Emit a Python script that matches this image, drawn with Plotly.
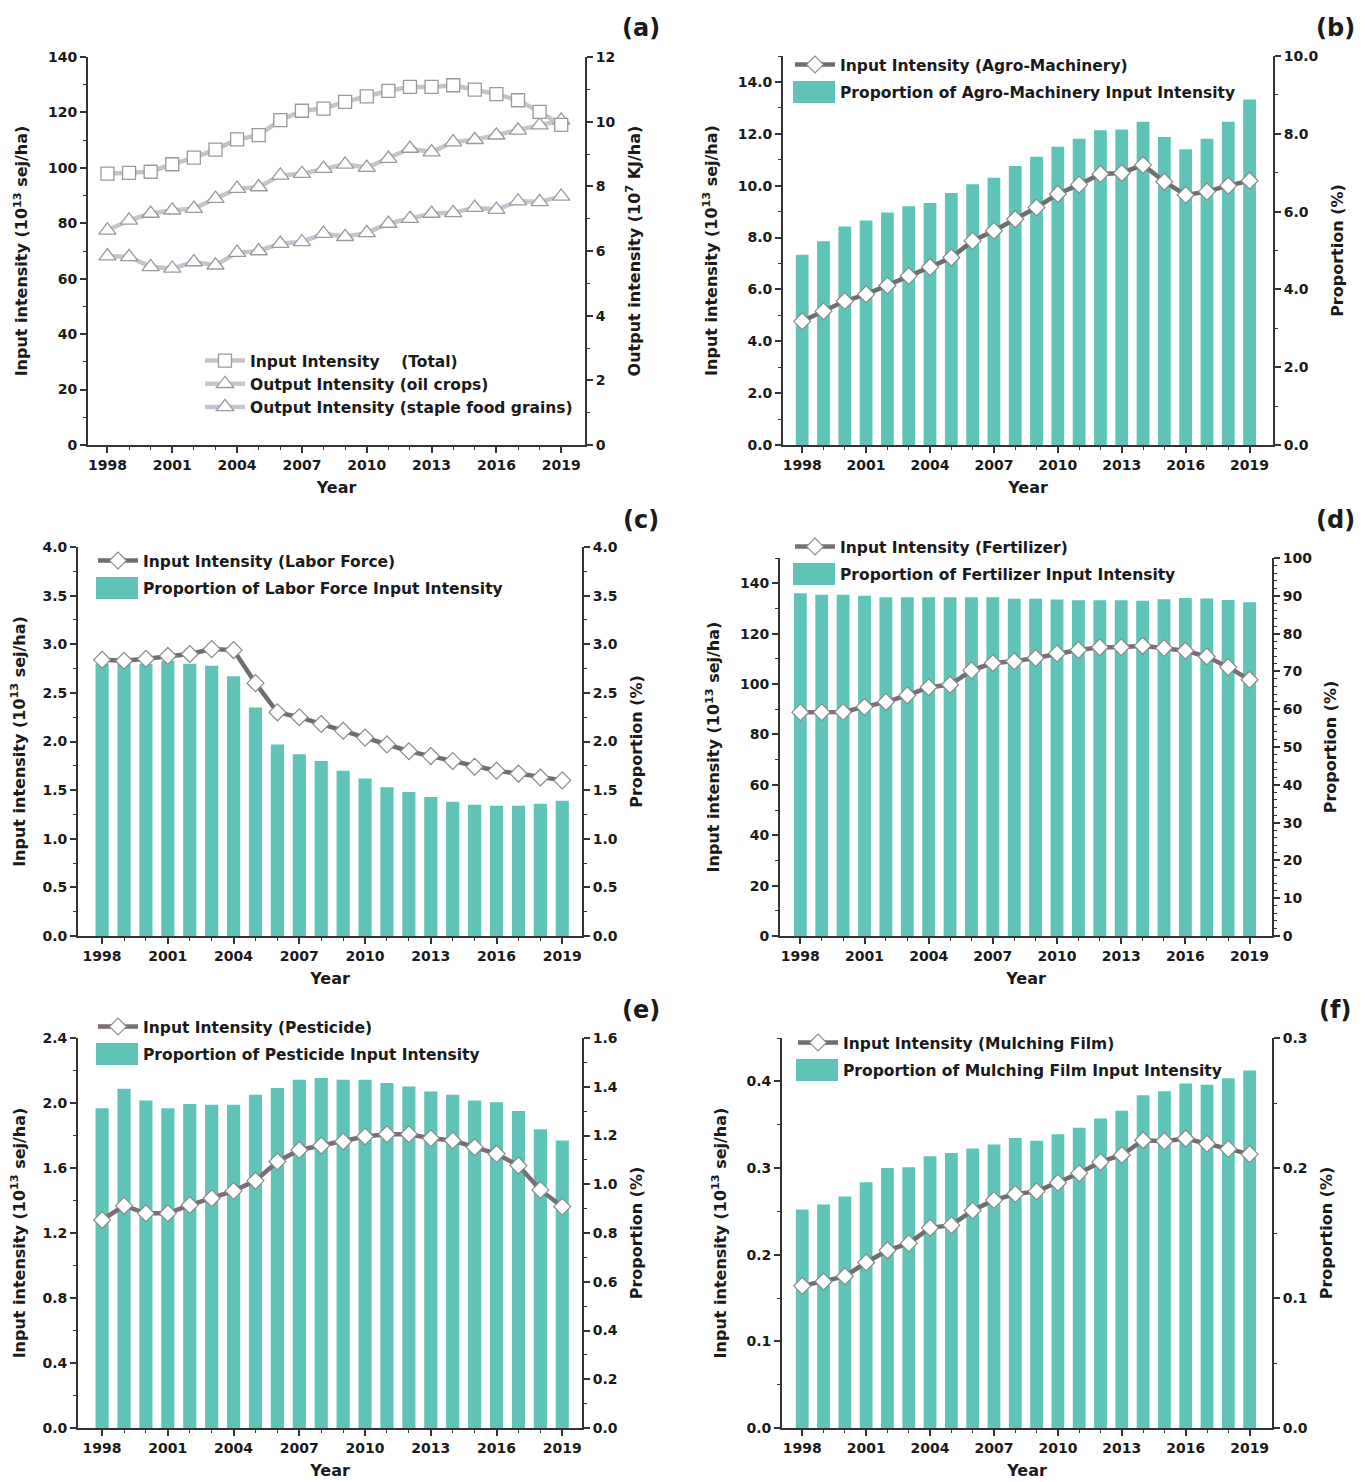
import plotly.graph_objects as go

years = list(range(1998, 2020))
tick_years = [1998, 2001, 2004, 2007, 2010, 2013, 2016, 2019]

# (a)
a_total = [97.9, 98.2, 98.6, 101.3, 103.7, 106.6, 110.3, 111.8, 117.2, 120.6, 121.4,
           123.8, 125.8, 127.8, 129.2, 129.2, 129.8, 128.2, 126.6, 124.4, 120.2, 115.5]
a_oil = [6.64, 6.95, 7.16, 7.26, 7.31, 7.62, 7.93, 7.98, 8.34, 8.39, 8.55,
         8.68, 8.58, 8.86, 9.17, 9.06, 9.37, 9.44, 9.58, 9.73, 9.89, 10.04]
a_staple = [5.84, 5.82, 5.51, 5.46, 5.66, 5.56, 5.95, 6.00, 6.23, 6.28, 6.54,
            6.44, 6.56, 6.85, 7.00, 7.16, 7.18, 7.34, 7.28, 7.54, 7.52, 7.69]

# (b) Agro-Machinery
b_int = [4.77, 5.16, 5.55, 5.81, 6.15, 6.52, 6.86, 7.23, 7.87, 8.26, 8.71,
         9.16, 9.68, 10.04, 10.45, 10.49, 10.80, 10.15, 9.64, 9.77, 10.0, 10.19]
b_prop = [4.89, 5.24, 5.62, 5.77, 5.98, 6.14, 6.22, 6.48, 6.70, 6.87, 7.17,
          7.41, 7.67, 7.87, 8.09, 8.11, 8.31, 7.92, 7.60, 7.87, 8.31, 8.88]

# (c) Labor Force
c_int = [2.84, 2.83, 2.85, 2.88, 2.90, 2.95, 2.94, 2.60, 2.30, 2.25, 2.18,
         2.11, 2.04, 1.97, 1.90, 1.85, 1.80, 1.74, 1.70, 1.67, 1.63, 1.60]
c_prop = [2.80, 2.80, 2.80, 2.83, 2.80, 2.78, 2.67, 2.35, 1.97, 1.87, 1.80,
          1.70, 1.62, 1.53, 1.48, 1.43, 1.38, 1.35, 1.34, 1.34, 1.36, 1.39]

# (d) Fertilizer
d_int = [88.8, 88.8, 88.9, 90.9, 92.9, 95.5, 98.7, 99.7, 105.4, 108.3, 109.0,
         110.3, 112.1, 113.5, 114.6, 114.6, 115.2, 114.3, 113.2, 110.9, 106.7, 101.7]
d_prop = [90.7, 90.3, 90.3, 90.0, 89.6, 89.6, 89.6, 89.6, 89.6, 89.6, 89.2,
          89.2, 89.0, 88.8, 88.8, 88.8, 88.7, 89.1, 89.4, 89.3, 88.9, 88.3]

# (e) Pesticide
e_int = [1.280, 1.368, 1.321, 1.321, 1.372, 1.414, 1.459, 1.522, 1.640, 1.711, 1.738,
         1.763, 1.794, 1.808, 1.808, 1.783, 1.769, 1.728, 1.687, 1.615, 1.465, 1.362]
e_prop = [1.312, 1.392, 1.344, 1.312, 1.329, 1.326, 1.326, 1.367, 1.395, 1.429, 1.436,
          1.429, 1.429, 1.415, 1.401, 1.381, 1.367, 1.344, 1.336, 1.301, 1.226, 1.179]

# (f) Mulching Film
f_int = [0.164, 0.169, 0.175, 0.191, 0.205, 0.213, 0.231, 0.234, 0.251, 0.263, 0.270,
         0.273, 0.283, 0.294, 0.307, 0.315, 0.332, 0.331, 0.334, 0.328, 0.322, 0.316]
f_prop = [0.168, 0.172, 0.178, 0.189, 0.200, 0.2005, 0.209, 0.2115, 0.215, 0.218, 0.223,
          0.221, 0.226, 0.231, 0.238, 0.244, 0.256, 0.259, 0.265, 0.264, 0.269, 0.275]

W, H = 1365, 1482
OFF = 8  # page body margin
FONT = "DejaVu Sans, Arial, sans-serif"
TXT = "#1a1a1a"
AX = "#333333"
BAR = "#5fc4b7"
LINE = "#6e6e6e"
LINE2 = "#7a6c78"


def fx(px):
    return (px - OFF) / W


def fy(py):
    return 1 - (py - OFF) / H


panels = [
    dict(xd=[fx(88), fx(585)], yd=[fy(445), fy(57)], xr=[1997.1, 2020.1]),
    dict(xd=[fx(783), fx(1273)], yd=[fy(445), fy(56)], xr=[1997.1, 2020.1]),
    dict(xd=[fx(78), fx(582)], yd=[fy(936), fy(547)], xr=[1996.9, 2019.9]),
    dict(xd=[fx(780), fx(1272)], yd=[fy(936), fy(558)], xr=[1997.05, 2020.05]),
    dict(xd=[fx(78), fx(582)], yd=[fy(1428), fy(1038)], xr=[1996.9, 2019.9]),
    dict(xd=[fx(782), fx(1272)], yd=[fy(1428), fy(1038)], xr=[1997.05, 2020.05]),
]

# (right axis range, dtick, minor, fmt), (left axis range, dtick, minor, fmt)
yspecs = [
    (([0, 12], 2, 1, "d"), ([0, 140], 20, 10, "d")),
    (([0, 10], 2, 1, ".1f"), ([0, 15], 2, 1, ".1f")),
    (([0, 4], 0.5, 0.25, ".1f"), ([0, 4], 0.5, 0.25, ".1f")),
    (([0, 100], 10, 2, "d"), ([0, 150], 20, 10, "d")),
    (([0, 1.6], 0.2, 0.1, ".1f"), ([0, 2.4], 0.4, 0.2, ".1f")),
    (([0, 0.3], 0.1, 0.05, ".1f"), ([0, 0.45], 0.1, 0.05, ".1f")),
]

fig = go.Figure()


def ax_names(k):
    xn = "x" if k == 1 else f"x{k}"
    yr = "y" if k == 1 else f"y{2*k-1}"
    yl = f"y{2*k}"
    return xn, yr, yl


tickfont = dict(family=FONT, size=14, color=TXT, weight="bold")
titlefont = dict(family=FONT, size=16, color=TXT, weight="bold")

layout = dict(
    width=W, height=H,
    margin=dict(l=0, r=0, t=0, b=0, autoexpand=False),
    paper_bgcolor="white", plot_bgcolor="rgba(0,0,0,0)",
    showlegend=True,
    barmode="overlay",
    font=dict(family=FONT, color=TXT),
)

right_titles = ["Output intensity (10<sup>7</sup> KJ/ha)"] + ["Proportion (%)"] * 5
for i, p in enumerate(panels):
    k = i + 1
    xn, yr, yl = ax_names(k)
    xkey = "xaxis" if k == 1 else f"xaxis{k}"
    yrkey = "yaxis" if k == 1 else f"yaxis{2*k-1}"
    ylkey = f"yaxis{2*k}"
    layout[xkey] = dict(
        domain=p["xd"], anchor=yr, range=p["xr"], automargin=False,
        tickvals=tick_years, ticks="outside", ticklen=6, tickwidth=1.5, tickcolor=AX,
        minor=dict(tickvals=years, ticks="outside", ticklen=3, tickcolor=AX, tickwidth=1.2),
        showline=True, linecolor=AX, linewidth=1.8, showgrid=False, zeroline=False,
        tickfont=tickfont, title=dict(text="Year", font=titlefont, standoff=10),
    )
    (rr, rd, rm, rf), (lr, ld, lm, lf) = yspecs[i]
    layout[yrkey] = dict(
        domain=p["yd"], anchor=xn, side="right", range=rr, dtick=rd, tick0=0, automargin=False,
        tickformat=rf, ticks="outside", ticklen=6, tickwidth=1.5, tickcolor=AX,
        minor=dict(dtick=rm, tick0=0, ticks="outside", ticklen=3, tickcolor=AX, tickwidth=1.2),
        showline=True, linecolor=AX, linewidth=1.8, showgrid=False, zeroline=False,
        tickfont=tickfont, title=dict(text=right_titles[i], font=titlefont, standoff=14),
    )
    layout[ylkey] = dict(
        anchor=xn, overlaying=yr, side="left", range=lr, dtick=ld, tick0=0, automargin=False,
        tickformat=lf, ticks="outside", ticklen=6, tickwidth=1.5, tickcolor=AX,
        minor=dict(dtick=lm, tick0=0, ticks="outside", ticklen=3, tickcolor=AX, tickwidth=1.2),
        showline=True, linecolor=AX, linewidth=1.8, showgrid=False, zeroline=False,
        tickfont=tickfont, title=dict(text="Input intensity (10<sup>13</sup> sej/ha)", font=titlefont, standoff=16),
    )

legfont = dict(family=FONT, size=15.5, color=TXT, weight="bold")
leg_pos = [
    (200, 344), (790, 48), (93, 544), (790, 530), (93, 1010), (793, 1026),
]
for i, (lx, ly) in enumerate(leg_pos):
    key = "legend" if i == 0 else f"legend{i+1}"
    layout[key] = dict(
        x=fx(lx), y=fy(ly), xanchor="left", yanchor="top",
        bgcolor="rgba(0,0,0,0)", font=legfont, tracegroupgap=0 if i == 0 else 4,
        itemwidth=40, traceorder="normal" if i == 0 else "grouped",
    )

# Panel (a)
xn, yr, yl = ax_names(1)
fig.add_trace(go.Scatter(
    x=years, y=a_total, xaxis=xn, yaxis=yl, mode="lines+markers",
    name="Input Intensity    (Total)", legend="legend",
    line=dict(color="#cbbfcb", width=4.5),
    marker=dict(symbol="square", size=13, color="white", line=dict(color="#999999", width=1.3)),
))
fig.add_trace(go.Scatter(
    x=years, y=a_oil, xaxis=xn, yaxis=yr, mode="lines+markers",
    name="Output Intensity (oil crops)", legend="legend",
    line=dict(color="#c2cbc2", width=4.5),
    marker=dict(symbol="triangle-up", size=15, color="white", line=dict(color="#999999", width=1.3)),
))
fig.add_trace(go.Scatter(
    x=years, y=a_staple, xaxis=xn, yaxis=yr, mode="lines+markers",
    name="Output Intensity (staple food grains)", legend="legend",
    line=dict(color="#bec8d4", width=4.5),
    marker=dict(symbol="triangle-up", size=15, color="white", line=dict(color="#999999", width=1.3)),
))

bar_panels = [
    (2, b_int, b_prop, "Agro-Machinery", LINE),
    (3, c_int, c_prop, "Labor Force", LINE),
    (4, d_int, d_prop, "Fertilizer", LINE2),
    (5, e_int, e_prop, "Pesticide", LINE2),
    (6, f_int, f_prop, "Mulching Film", LINE),
]
shapes = []
for k, ints, props, nm, lc in bar_panels:
    xn, yr, yl = ax_names(k)
    lg = f"legend{k}"
    fig.add_trace(go.Bar(
        x=years, y=props, xaxis=xn, yaxis=yr, width=0.6,
        name=f"Proportion of {nm} Input Intensity", legend=lg, legendrank=2,
        legendgroup=f"bar{k}",
        marker=dict(color=BAR, line=dict(width=0)),
    ))
    fig.add_trace(go.Scatter(
        x=years, y=ints, xaxis=xn, yaxis=yl, mode="lines+markers",
        name=f"Input Intensity ({nm})", legend=lg, legendrank=1,
        legendgroup=f"line{k}",
        line=dict(color=lc, width=4.5),
        marker=dict(symbol="diamond", size=13, color="white", line=dict(color="#8a8a8a", width=1.2)),
    ))
    # enlarged legend swatch for the bar series (as in the original legend)
    lx, ly = leg_pos[k - 1]
    cy = ly + 44
    shapes.append(dict(
        type="rect", xref="paper", yref="paper",
        x0=fx(lx + 3), x1=fx(lx + 45), y0=fy(cy + 11), y1=fy(cy - 11),
        fillcolor=BAR, line=dict(width=0), layer="above",
    ))

layout["shapes"] = shapes

labels = [("(a)", 641, 28), ("(b)", 1335, 28), ("(c)", 641, 520),
          ("(d)", 1335, 520), ("(e)", 641, 1010), ("(f)", 1335, 1010)]
layout["annotations"] = [
    dict(text=t, x=fx(x), y=fy(y), xref="paper", yref="paper",
         showarrow=False, xanchor="center", yanchor="middle",
         font=dict(family=FONT, size=24, color=TXT, weight="bold"))
    for t, x, y in labels
]

fig.update_layout(**layout)
fig.write_html("out.html")
